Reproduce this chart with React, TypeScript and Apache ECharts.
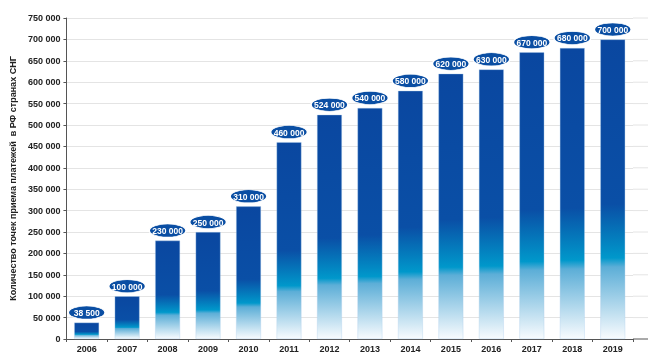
import React, { useEffect, useRef } from "react";
import * as echarts from "echarts";

const years = ["2006", "2007", "2008", "2009", "2010", "2011", "2012", "2013", "2014", "2015", "2016", "2017", "2018", "2019"];
const points = [38500, 100000, 230000, 250000, 310000, 460000, 524000, 540000, 580000, 620000, 630000, 670000, 680000, 700000];
const yTicks = [0, 50000, 100000, 150000, 200000, 250000, 300000, 350000, 400000, 450000, 500000, 550000, 600000, 650000, 700000, 750000];
const axisName = "Количество точек приема платежей  в РФ странах СНГ";

const fmt = (v: number) => String(v).replace(/\B(?=(\d{3})+(?!\d))/g, " ");
const FONT = "Liberation Sans";

export default function App() {
  const ref = useRef<HTMLDivElement>(null);
  useEffect(() => {
    if (!ref.current) return;
    const chart = echarts.init(ref.current, null, { renderer: "svg" });
    const barGradient = new echarts.graphic.LinearGradient(0, 0, 0, 1, [
      { offset: 0, color: "#0a47a0" },
      { offset: 0.55, color: "#0a4fa6" },
      { offset: 0.73, color: "#0098cb" },
      { offset: 0.76, color: "#5caed7" },
      { offset: 1, color: "#f8fbfe" },
    ]);
    chart.setOption({
      animation: false,
      textStyle: { fontFamily: FONT },
      grid: { left: 59, top: 18, right: 20, bottom: 24, containLabel: false },
      xAxis: {
        type: "category",
        data: years,
        boundaryGap: true,
        axisLine: { lineStyle: { color: "#555", width: 1 } },
        axisTick: { show: true, length: 3, lineStyle: { color: "#555" } },
        axisLabel: { color: "#222", fontSize: 9, fontWeight: "bold", fontFamily: FONT, margin: 5 },
      },
      yAxis: {
        type: "value",
        min: 0,
        max: 750000,
        interval: 50000,
        name: axisName,
        nameLocation: "middle",
        nameGap: 48,
        nameTextStyle: { color: "#222", fontSize: 9, fontWeight: "bold", fontFamily: FONT },
        axisLine: { show: true, lineStyle: { color: "#555", width: 1 } },
        axisTick: { show: true, length: 3, lineStyle: { color: "#555" } },
        axisLabel: {
          color: "#222",
          fontSize: 9,
          fontWeight: "bold",
          fontFamily: FONT,
          margin: 6,
          formatter: (v: number) => fmt(v),
        },
        splitLine: { show: true, lineStyle: { color: "#e4e4e4", width: 1 } },
      },
      series: [
        {
          type: "scatter",
          data: points,
          symbol: "circle",
          symbolSize: [37, 13],
          symbolOffset: [0, -10],
          itemStyle: { color: "#0a4ea3", borderColor: "#ffffff", borderWidth: 1, opacity: 1 },
          label: { show: false },
          z: 5,
        },
        {
          type: "bar",
          data: points,
          barWidth: 25,
          itemStyle: { color: barGradient, borderColor: "rgba(170,205,235,0.6)", borderWidth: 0.6 },
          label: {
            show: true,
            position: "top",
            distance: 5,
            color: "#ffffff",
            fontSize: 8.5,
            fontWeight: "bold",
            fontFamily: FONT,
            formatter: (p: any) => fmt(p.value),
          },
          z: 6,
        },
      ],
    });
    const rightEdge = 633;
    const ext = 648;
    const lines: any[] = yTicks.map((v) => {
      const y = chart.convertToPixel({ yAxisIndex: 0 }, v) as number;
      return {
        type: "line",
        shape: { x1: rightEdge, y1: y, x2: ext, y2: y },
        style: { stroke: v === 0 ? "#555" : "#e4e4e4", lineWidth: 1 },
        silent: true,
      };
    });
    chart.setOption({ graphic: lines });
    return () => chart.dispose();
  }, []);
  return <div ref={ref} style={{ position: "fixed", left: 0, top: 0, width: 653, height: 363 }} />;
}
